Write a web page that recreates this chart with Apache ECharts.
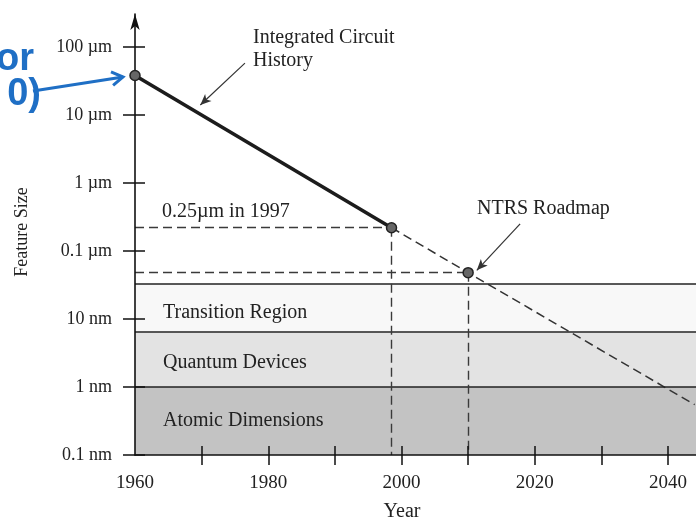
<!DOCTYPE html>
<html><head><meta charset="utf-8">
<script src="https://cdn.jsdelivr.net/npm/echarts@6/dist/echarts.min.js"></script>
<style>html,body{margin:0;padding:0;background:#fff}#c{width:696px;height:524px}</style>
</head><body><div id="c"></div>
<script>
// ---- data (sizes in µm) ----
const historyYears = [1960, 1998.5];
const historySize = [38, 0.22];
const roadmapYears = [1998.5, 2010, 2044];
const roadmapSize = [0.22, 0.048, 0.00055];
const pointYears = [1960, 1998.5, 2010];
const pointSize = [38, 0.22, 0.048];
const bandNames = ['Atomic Dimensions', 'Quantum Devices', 'Transition Region'];
const bandLow = [0.0001, 0.001, 0.0064];
const bandHigh = [0.001, 0.0064, 0.033];
const yTickValues = [0.0001, 0.001, 0.01, 0.1, 1, 10, 100];
const yTickLabels = ['0.1 nm', '1 nm', '10 nm', '0.1 µm', '1 µm', '10 µm', '100 µm'];
const xTickYears = [1970, 1980, 1990, 2000, 2010, 2020, 2030, 2040];
const xLabelYears = [1960, 1980, 2000, 2020, 2040];
const guideYears = [1998.5, 2010];
const guideSize = [0.22, 0.048];
const icArrow = [[1976.5, 58], [1969.8, 14]];
const ntrsArrow = [[2017.8, 0.25], [2011.3, 0.052]];

// ---- styles ----
const SERIF = 'Liberation Serif';
const bandColors = ['#c3c3c3', '#e3e3e3', '#f8f8f8'];
const bandLabelOffset = [0, 3, 5];
const L = v => Math.log10(v);
const X_MIN = 1960, X_MAX = 2044.2, Y_MIN = -4, Y_MAX = 2.485;

const chart = echarts.init(document.getElementById('c'), null, {renderer: 'canvas'});

const yLabelFmt = v => {
  const i = yTickValues.findIndex(t => Math.abs(L(t) - v) < 1e-6);
  return i >= 0 ? yTickLabels[i] : '';
};

const baseX = {
  type: 'value', min: X_MIN, max: X_MAX, interval: 10, gridIndex: 0, position: 'bottom',
  splitLine: {show: false}, z: 8
};
const baseY = {
  type: 'value', min: Y_MIN, max: Y_MAX, interval: 1, gridIndex: 0, position: 'left',
  splitLine: {show: false}, z: 8
};

const bandAreas = bandNames.map((n, i) => [
  {name: n, yAxis: L(bandLow[i]), itemStyle: {color: bandColors[i]},
   label: {offset: [0, bandLabelOffset[i]]}},
  {yAxis: L(bandHigh[i])}
]);
const boundaryLines = bandHigh.map(v => ({yAxis: L(v)}));

const dashStyle = {color: '#3a3a3a', width: 1.4, type: [9, 5]};
const guideLines = [];
guideYears.forEach((yr, i) => {
  guideLines.push([{coord: [X_MIN, L(guideSize[i])]}, {coord: [yr, L(guideSize[i])]}]);
  guideLines.push([{coord: [yr, L(guideSize[i])]}, {coord: [yr, Y_MIN]}]);
});
const arrowItem = a => [
  {coord: [a[0][0], L(a[0][1])], symbol: 'none'},
  {coord: [a[1][0], L(a[1][1])], symbol: 'arrow', symbolSize: [7, 11]}
];

chart.setOption({
  animation: false,
  backgroundColor: '#ffffff',
  grid: {left: 135, right: 0, top: 14, bottom: 69, outerBoundsMode: 'none', containLabel: false},
  xAxis: [
    Object.assign({}, baseX, {
      axisLine: {show: true, onZero: false, lineStyle: {color: '#111', width: 1.6}},
      axisTick: {show: true, length: 10, inside: false, lineStyle: {color: '#111', width: 1.5},
                 customValues: xTickYears},
      axisLabel: {show: true, margin: 19, color: '#222', fontFamily: SERIF, fontSize: 19,
                  customValues: xLabelYears, formatter: v => String(Math.round(v))}
    }),
    Object.assign({}, baseX, {
      axisLine: {show: false, onZero: false},
      axisTick: {show: true, length: 9, inside: true, lineStyle: {color: '#111', width: 1.5},
                 customValues: xTickYears},
      axisLabel: {show: false}
    })
  ],
  yAxis: [
    Object.assign({}, baseY, {
      axisLine: {show: true, onZero: false, symbol: ['none', 'arrow'], symbolSize: [7, 16],
                 lineStyle: {color: '#111', width: 1.6}},
      axisTick: {show: true, length: 12, inside: false, lineStyle: {color: '#111', width: 1.5},
                 customValues: yTickValues.map(L)},
      axisLabel: {show: true, margin: 23, color: '#222', fontFamily: SERIF, fontSize: 18,
                  customValues: yTickValues.map(L), formatter: yLabelFmt}
    }),
    Object.assign({}, baseY, {
      axisLine: {show: false, onZero: false},
      axisTick: {show: true, length: 10, inside: true, lineStyle: {color: '#111', width: 1.5},
                 customValues: yTickValues.map(L)},
      axisLabel: {show: false}
    })
  ],
  series: [
    {
      name: 'bands', type: 'line', data: [], z: 1, silent: true,
      markArea: {
        silent: true,
        label: {show: true, position: 'insideLeft', distance: 28, color: '#222',
                fontFamily: SERIF, fontSize: 20},
        data: bandAreas
      },
      markLine: {
        silent: true, symbol: 'none', label: {show: false},
        lineStyle: {color: '#222', width: 1.6, type: 'solid'},
        data: boundaryLines
      }
    },
    {
      name: 'guides', type: 'line', data: [], z: 2, silent: true,
      markLine: {
        silent: true, symbol: 'none', label: {show: false},
        lineStyle: dashStyle,
        data: guideLines
      }
    },
    {
      name: 'arrows', type: 'line', data: [], z: 4, silent: true,
      markLine: {
        silent: true, label: {show: false},
        lineStyle: {color: '#333', width: 1.2, type: 'solid'},
        data: [arrowItem(icArrow), arrowItem(ntrsArrow)]
      }
    },
    {
      name: 'NTRS Roadmap', type: 'line', z: 3, symbol: 'none',
      lineStyle: {color: '#333', width: 1.5, type: [9, 5]},
      data: roadmapYears.map((y, i) => [y, L(roadmapSize[i])])
    },
    {
      name: 'Integrated Circuit History', type: 'line', z: 3, symbol: 'none',
      lineStyle: {color: '#1c1c1c', width: 3.6},
      data: historyYears.map((y, i) => [y, L(historySize[i])])
    },
    {
      name: 'points', type: 'scatter', z: 10, symbol: 'circle', symbolSize: 10,
      itemStyle: {color: '#666', borderColor: '#222', borderWidth: 1.5, opacity: 1},
      data: pointYears.map((y, i) => [y, L(pointSize[i])])
    }
  ]
});

// ---- annotations ----
const txt = (text, x, y, opt) => ({
  type: 'text', z: 20, x: x, y: y, rotation: (opt && opt.rot) || 0,
  style: Object.assign({text: text, fill: '#222', font: '20px "' + SERIF + '"',
                        textAlign: 'left', textVerticalAlign: 'middle'}, opt && opt.style)
});
const blue = '#1f6fc5';
const bx0 = 33, by0 = 91, bx1 = 123, by1 = 77;
const ang = Math.atan2(by1 - by0, bx1 - bx0);
const head = 13, spread = 0.55;
chart.setOption({
  graphic: [
    txt('Integrated Circuit', 253, 38),
    txt('History', 253, 61),
    txt('0.25µm in 1997', 162, 212),
    txt('NTRS Roadmap', 477, 209),
    txt('Feature Size', 22, 232, {rot: Math.PI / 2, style: {textAlign: 'center', font: '18px "' + SERIF + '"'}}),
    txt('Year', 402, 512, {style: {textAlign: 'center'}}),
    txt('or', 34, 60, {style: {textAlign: 'right', fill: blue, font: 'bold 38px "Liberation Sans"'}}),
    txt('0)', 41, 95, {style: {textAlign: 'right', fill: blue, font: 'bold 38px "Liberation Sans"'}}),
    {type: 'polyline', z: 20, shape: {points: [[bx0, by0], [bx1, by1]]},
     style: {stroke: blue, lineWidth: 3, fill: null}},
    {type: 'polyline', z: 20, shape: {points: [
      [bx1 - head * Math.cos(ang - spread), by1 - head * Math.sin(ang - spread)],
      [bx1, by1],
      [bx1 - head * Math.cos(ang + spread), by1 - head * Math.sin(ang + spread)]]},
     style: {stroke: blue, lineWidth: 3, fill: null, lineJoin: 'miter'}}
  ]
});
</script></body></html>
